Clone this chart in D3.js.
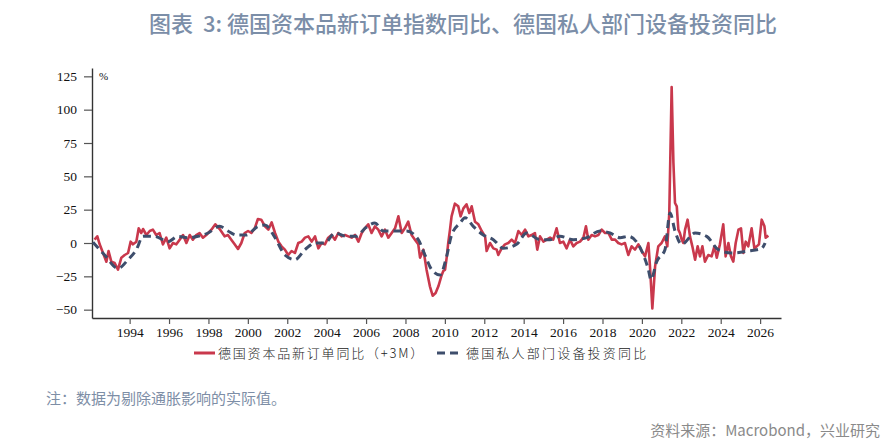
<!DOCTYPE html>
<html>
<head>
<meta charset="utf-8">
<script src="https://cdn.jsdelivr.net/npm/d3@7"></script>
<style>
  body { margin: 0; background: #fff; }
  svg { display: block; }
</style>
</head>
<body>
<div id="chart-area"></div>
<script>
// 德国资本品新订单同比（+3M），按月，读图估计
var redYears = [1992.22,1992.36,1992.48,1992.65,1992.82,1992.93,1993.07,1993.24,1993.41,1993.58,1993.75,1993.92,
  1994.05,1994.17,1994.34,1994.46,1994.59,1994.68,1994.85,1995.02,1995.18,1995.35,1995.52,1995.69,1995.86,
  1996.03,1996.20,1996.37,1996.54,1996.71,1996.88,1997.05,1997.21,1997.38,1997.55,1997.72,1997.89,
  1998.15,1998.35,1998.57,1998.82,1998.99,1999.16,1999.33,1999.50,1999.67,1999.84,2000.01,2000.18,2000.35,
  2000.51,2000.68,2000.87,2001.04,2001.21,2001.38,2001.55,2001.71,2001.88,2002.05,2002.22,2002.39,2002.56,
  2002.73,2002.90,2003.07,2003.24,2003.41,2003.58,2003.74,2003.91,2004.08,2004.25,2004.42,2004.59,2004.76,
  2004.93,2005.10,2005.27,2005.44,2005.61,2005.78,2005.94,2006.11,2006.28,2006.45,2006.62,2006.79,2006.96,
  2007.13,2007.30,2007.47,2007.64,2007.81,2007.97,2008.14,2008.31,2008.48,2008.65,2008.74,2008.91,2009.07,
  2009.24,2009.38,2009.53,2009.67,2009.84,2009.92,2010.01,2010.10,2010.17,2010.26,2010.34,2010.43,2010.51,
  2010.68,2010.80,2010.94,2011.10,2011.24,2011.36,2011.53,2011.70,2011.87,2012.04,2012.12,2012.29,2012.46,
  2012.63,2012.71,2012.88,2013.05,2013.22,2013.39,2013.56,2013.73,2013.90,2014.07,2014.24,2014.40,2014.57,
  2014.69,2014.83,2015.00,2015.17,2015.34,2015.50,2015.67,2015.84,2016.01,2016.18,2016.35,2016.52,2016.69,
  2016.86,2017.03,2017.16,2017.28,2017.45,2017.62,2017.79,2017.96,2018.13,2018.30,2018.47,2018.64,2018.80,
  2018.97,2019.14,2019.31,2019.48,2019.65,2019.82,2019.99,2020.16,2020.33,2020.41,2020.53,2020.67,2020.83,
  2021.00,2021.17,2021.29,2021.39,2021.51,2021.60,2021.68,2021.77,2021.85,2021.93,2022.02,2022.10,2022.19,
  2022.32,2022.44,2022.56,2022.70,2022.83,2022.95,2023.07,2023.20,2023.37,2023.54,2023.68,2023.80,2023.96,
  2024.13,2024.25,2024.39,2024.52,2024.64,2024.76,2024.90,2025.03,2025.15,2025.27,2025.40,2025.57,2025.71,
  2025.83,2025.94,2026.08,2026.22,2026.28,2026.42];
var redValues = [2.5,5,-1,-7.5,-14,-6,-14,-15,-20,-11,-9,-7.5,
  1,-1,1,11,7.5,10.5,6,9,10,6,7.5,-1,4,
  -4,0,-1,2.5,6,0,6,2.5,6,7.5,4,6,
  10,14,10.5,5,6,2.5,-1,-4.5,0,7.5,9,7.5,11,
  18,17.5,12.5,10,15.5,7.5,1,-2.5,-5,-9,-6,-7.5,0,
  1,4,5,1,5,-4,0,-1,4,6,2.5,7.5,5,
  6,5,4,6,1,7.5,11,14,7.5,12.5,10,5,10,
  4,7.5,11,20,7.5,11,16,6,2.5,-1,-11,-5,-20,
  -32.5,-39.5,-37.5,-32.5,-24,-21,-20,-10,0,10,20,25,29.5,
  27.5,20,26,29,22.5,27.5,16,14,9,5,-6,0,-4,
  -5,-9,-4,-1,0,2.5,0,9,6,10,5,6,7.5,
  -5,5,1,2.5,4,2.5,11,0,1,-4,2.5,-2.5,0,
  1,4,12.5,2.5,6,5,6,10,7.5,7.5,2.5,2.5,0,
  -1,0,-9,-2.5,-5,-1,-6,-10,0,-17.5,-49,-17.5,-2.5,
  0,5,-2.5,22.5,117,60,30,27.5,10,7.5,2.5,0,10,
  17.5,5,-2.5,-12.5,-2.5,-10,-2.5,-14,-9,-10,-2.5,-11,-1,
  14,-10,0,-10,-14,0,10,11,-7.5,1,-2.5,11,-4,
  -2.5,-1,17.5,12.5,4,5.5];

// 德国私人部门设备投资同比，按季，读图估计
var blueYears = [1992.14,1992.73,1993.41,1993.92,1994.34,1994.68,1995.27,1995.95,1996.45,1996.96,1997.47,1997.98,
  1998.57,1998.99,1999.41,1999.92,2000.51,2000.87,2001.38,2001.88,2002.39,2002.90,2003.41,2003.91,2004.42,
  2005.01,2005.52,2005.94,2006.45,2006.87,2007.47,2008.06,2008.65,2008.99,2009.33,2009.75,2010.09,2010.34,
  2010.77,2011.02,2011.44,2011.95,2012.46,2012.97,2013.64,2014.15,2014.83,2015.34,2015.84,2016.52,2017.20,
  2017.87,2018.38,2018.89,2019.31,2019.99,2020.33,2020.46,2020.75,2021.17,2021.43,2021.68,2022.02,2022.70,
  2023.29,2023.88,2024.56,2025.40,2026.08,2026.25];
var blueValues = [0.5,-9,-19,-12.5,-5,5,5,1,5,4,5,7.5,
  12.5,9,6,6,12.5,13.5,4,-9,-12.5,-5,0,0,7.5,
  5,5,11,15,9,9,9,2.5,-9,-20,-24,-10,6,
  15,19,12.5,6,2.5,-4,-1,7.5,2.5,2.5,5,2.5,4,
  9,7.5,4,5,-6,-20,-27.5,-14,-5,22.5,9,-1,7.5,
  5,-5,-7.5,-6,-4,0];

var yTicks = [-50, -25, 0, 25, 50, 75, 100, 125];
var xTicks = [1994, 1996, 1998, 2000, 2002, 2004, 2006, 2008, 2010, 2012, 2014, 2016, 2018, 2020, 2022, 2024, 2026];

var redName = "德国资本品新订单同比（+3M）";
var blueName = "德国私人部门设备投资同比";
var redColor = "#c9384c",
    blueColor = "#3e4e6c";

var width = 895, height = 447;
var plot = { left: 92, right: 781, top: 68, bottom: 318 };

var svg = d3.select("#chart-area")
    .append("svg")
        .attr("width", width)
        .attr("height", height);

svg.append("text")
    .attr("x", 463)
    .attr("y", 32)
    .attr("text-anchor", "middle")
    .attr("font-family", "'Noto Sans CJK SC', 'Noto Sans'")
    .attr("font-size", "22px")
    .attr("font-weight", 500)
    .attr("fill", "#7b8ea8")
    .attr("xml:space", "preserve")
    .style("white-space", "pre")
    .text("图表  3: 德国资本品新订单指数同比、德国私人部门设备投资同比");

var xScale = d3.scaleLinear()
    .domain([1992.09, 2027.06])
    .range([plot.left, plot.right]);

var yScale = d3.scaleLinear()
    .domain([-56.25, 131.25])
    .range([plot.bottom, plot.top]);

var yAxisCall = d3.axisLeft(yScale)
    .tickValues(yTicks)
    .tickSize(8)
    .tickPadding(7)
    .tickSizeOuter(0);

var xAxisCall = d3.axisBottom(xScale)
    .tickValues(xTicks)
    .tickSize(6)
    .tickPadding(3)
    .tickSizeOuter(0)
    .tickFormat(d3.format("d"));

var yAxis = svg.append("g")
    .attr("transform", "translate(" + plot.left + ",0)")
    .call(yAxisCall);

var xAxis = svg.append("g")
    .attr("transform", "translate(0," + plot.bottom + ")")
    .call(xAxisCall);

[xAxis, yAxis].forEach(function(ax) {
    ax.select(".domain").attr("stroke", "#333").attr("stroke-width", 1.4);
    ax.selectAll(".tick line").attr("stroke", "#555").attr("stroke-width", 1.2);
    ax.selectAll(".tick text")
        .attr("font-family", "'Liberation Serif', 'DejaVu Serif', serif")
        .attr("font-size", "13.5px")
        .attr("fill", "#111");
});

svg.append("text")
    .attr("x", 99)
    .attr("y", 80)
    .attr("font-family", "'Liberation Serif', serif")
    .attr("font-size", "11px")
    .attr("fill", "#111")
    .text("%");

var blueLine = d3.line()
    .x(function(d, i){ return xScale(blueYears[i]); })
    .y(function(d){ return yScale(d); })
    .curve(d3.curveMonotoneX);

var redLine = d3.line()
    .x(function(d, i){ return xScale(redYears[i]); })
    .y(function(d){ return yScale(d); });

svg.append("path")
    .attr("d", redLine(redValues))
    .attr("fill", "none")
    .attr("stroke", redColor)
    .attr("stroke-width", 2.6)
    .attr("stroke-linejoin", "round");

svg.append("path")
    .attr("d", blueLine(blueValues))
    .attr("fill", "none")
    .attr("stroke", blueColor)
    .attr("stroke-width", 3)
    .attr("stroke-dasharray", "8,5");

// legend
var legend = svg.append("g")
    .attr("transform", "translate(0,353)");

legend.append("line")
    .attr("x1", 194).attr("x2", 215)
    .attr("stroke", redColor)
    .attr("stroke-width", 3);
legend.append("text")
    .attr("x", 218)
    .attr("y", 5)
    .attr("font-family", "'Noto Sans CJK SC'")
    .attr("font-size", "13px")
    .attr("font-weight", 300)
    .attr("letter-spacing", "1.8px")
    .attr("fill", "#222")
    .text(redName);

legend.append("line")
    .attr("x1", 437).attr("x2", 462)
    .attr("stroke", blueColor)
    .attr("stroke-width", 3)
    .attr("stroke-dasharray", "8,5");
legend.append("text")
    .attr("x", 466)
    .attr("y", 5)
    .attr("font-family", "'Noto Sans CJK SC'")
    .attr("font-size", "13px")
    .attr("font-weight", 300)
    .attr("letter-spacing", "2.2px")
    .attr("fill", "#222")
    .text(blueName);

svg.append("text")
    .attr("x", 46)
    .attr("y", 404)
    .attr("font-family", "'Noto Sans CJK SC'")
    .attr("font-size", "15px")
    .attr("fill", "#7d8ea6")
    .text("注：数据为剔除通胀影响的实际值。");

svg.append("text")
    .attr("x", 880)
    .attr("y", 436)
    .attr("text-anchor", "end")
    .attr("font-family", "'Noto Sans CJK SC'")
    .attr("font-size", "15px")
    .attr("fill", "#8a8a8a")
    .text("资料来源：Macrobond，兴业研究");
</script>
</body>
</html>
